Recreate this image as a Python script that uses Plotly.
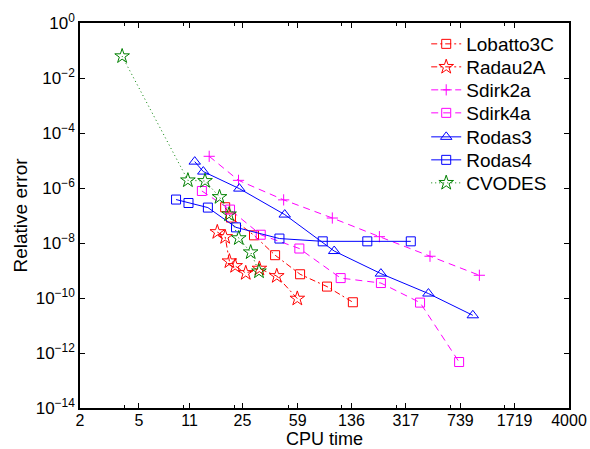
import plotly.graph_objects as go

# ---- data (CPU time, relative error) ----
lobatto_x = [19.1, 20.9, 29.9, 41.5, 61.2, 93, 139]
lobatto_y = [2.0e-7, 8.4e-8, 1.9e-8, 3.6e-9, 7.3e-10, 2.6e-10, 7.0e-11]

radau_x = [16.9, 19.1, 20.4, 22.3, 26.3, 32.5, 42.6, 58.6]
radau_y = [2.5e-8, 1.65e-8, 2.16e-9, 1.46e-9, 8.1e-10, 1.17e-9, 6.3e-10, 9.5e-11]

sdirk2_x = [14.9, 23.5, 47.4, 101, 210, 461, 993]
sdirk2_y = [1.42e-5, 1.9e-6, 3.7e-7, 8.1e-8, 1.7e-8, 3.3e-9, 6.7e-10]

sdirk4_x = [13.3, 20.6, 33.2, 60.5, 115, 215, 395, 725]
sdirk4_y = [7.8e-7, 1.64e-7, 2.0e-8, 6.3e-9, 5.3e-10, 3.5e-10, 6.8e-11, 4.7e-13]

rodas3_x = [11.9, 13.6, 23.8, 48.2, 104, 215, 450, 897]
rodas3_y = [9.1e-6, 3.95e-6, 9.5e-7, 1.08e-7, 5.1e-9, 7.7e-10, 1.45e-10, 2.35e-11]

rodas4_x = [8.9, 10.8, 14.6, 22.6, 44.4, 87, 174, 342]
rodas4_y = [3.8e-7, 2.85e-7, 1.94e-7, 3.7e-8, 1.45e-8, 1.15e-8, 1.15e-8, 1.15e-8]

cvodes_x = [3.85, 10.7, 13.96, 17.5, 20.3, 23.6, 28.4, 32.3]
cvodes_y = [6.2e-2, 1.9e-6, 1.8e-6, 4.7e-7, 1.1e-7, 1.5e-8, 4.6e-9, 9.3e-10]

x_ticks = [2, 5, 11, 25, 59, 136, 317, 739, 1719, 4000]
x_minor = [4, 10, 22, 51, 117, 272, 632, 1471]
y_exps = [0, -2, -4, -6, -8, -10, -12, -14]

RED = "#ff0000"
MAG = "#ff00ff"
BLUE = "#0000ff"
GREEN = "#008000"

series = [
    ("Lobatto3C", lobatto_x, lobatto_y, RED, "6px,3px,2px,3px", "square-open", 9),
    ("Radau2A", radau_x, radau_y, RED, "6px,3px,2px,3px", "star-open", 11),
    ("Sdirk2a", sdirk2_x, sdirk2_y, MAG, "7px,5px", "cross-thin-open", 8),
    ("Sdirk4a", sdirk4_x, sdirk4_y, MAG, "7px,5px", "square-open", 9),
    ("Rodas3", rodas3_x, rodas3_y, BLUE, "solid", "triangle-up-open", 10),
    ("Rodas4", rodas4_x, rodas4_y, BLUE, "solid", "square-open", 9),
    ("CVODES", cvodes_x, cvodes_y, GREEN, "1px,3px", "star-open", 11),
]

FONT = "Liberation Sans, Arial, Helvetica, sans-serif"
H, T, B = 449, 23, 41
plot_h = H - T - B
legend_rows_px = [44, 67, 90, 113, 137, 160, 183]

fig = go.Figure()
layout_legends = {}
for i, (name, xs, ys, col, dash, sym, sz) in enumerate(series):
    key = "legend" if i == 0 else "legend%d" % (i + 1)
    fig.add_trace(go.Scatter(
        x=xs, y=ys, name=name, mode="lines+markers", legend=key,
        line=dict(color=col, width=1, dash=dash),
        marker=dict(symbol=sym, size=sz, color=col, line=dict(color=col, width=1)),
    ))
    layout_legends[key] = dict(
        x=0.708, y=(H - B - legend_rows_px[i]) / plot_h,
        xanchor="left", yanchor="middle",
        bgcolor="rgba(255,255,255,0)", borderwidth=0,
        font=dict(size=19, family=FONT, color="black"),
        itemwidth=30,
    )

fig.update_layout(
    width=590, height=H,
    margin=dict(l=80, r=21, t=T, b=B),
    paper_bgcolor="white", plot_bgcolor="white",
    font=dict(family=FONT, size=16, color="black"),
    showlegend=True,
    **layout_legends,
)

fig.update_xaxes(
    type="log", range=[0.30103, 3.60206], automargin=False,
    tickmode="array", tickvals=x_ticks, ticktext=[str(v) for v in x_ticks],
    ticks="inside", ticklen=5, tickwidth=1, tickcolor="black",
    ticklabelstandoff=-3,
    showline=True, linecolor="black", linewidth=1.5, mirror="ticks",
    showgrid=False, zeroline=False,
    tickfont=dict(size=16),
    minor=dict(tickvals=x_minor, ticks="inside", ticklen=3, tickcolor="black", showgrid=False),
    title=dict(text="CPU time", font=dict(size=18), standoff=4),
)

fig.update_yaxes(
    type="log", range=[-14, 0], automargin=False,
    tickmode="array", tickvals=[10.0 ** e for e in y_exps],
    ticktext=["10<sup>%s</sup>" % (str(e).replace("-", "\u2212")) for e in y_exps],
    ticks="inside", ticklen=5, tickwidth=1, tickcolor="black",
    showline=True, linecolor="black", linewidth=1.5, mirror="ticks",
    showgrid=False, zeroline=False,
    tickfont=dict(size=17),
    title=dict(text="Relative error", font=dict(size=19), standoff=3),
)

fig.write_html("out.html")
